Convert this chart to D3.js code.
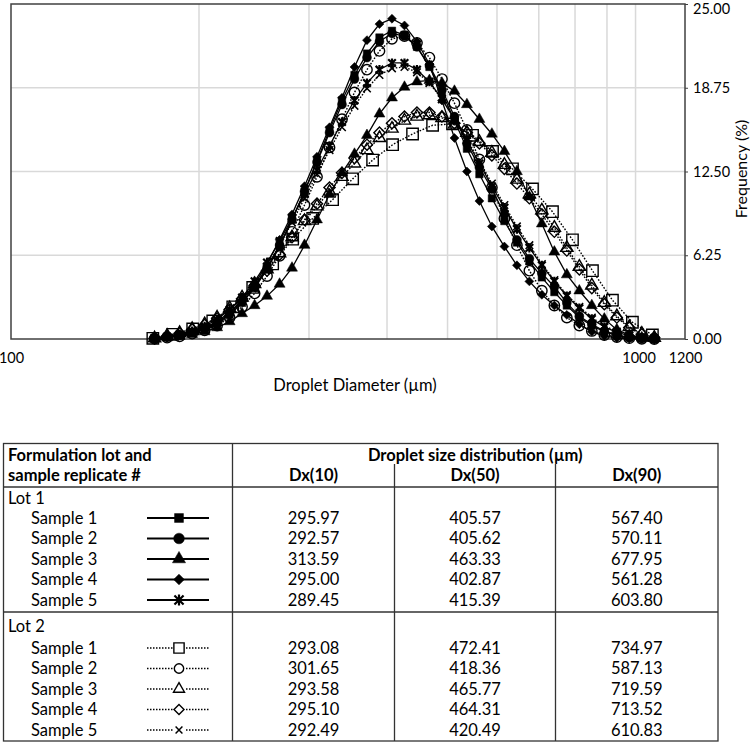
<!DOCTYPE html>
<html>
<head>
<meta charset="utf-8">
<script src="https://cdn.jsdelivr.net/npm/d3@7"></script>
<style>
body { margin: 0; background: #fff; }
text { font-family: Lato, "Open Sans", sans-serif; fill: #000; }
</style>
</head>
<body>
<svg width="750" height="743"></svg>
<script>
// droplet diameters (um) shared by most series
var diameters = [169.8,177.8,186.2,195.0,204.2,213.8,223.9,234.4,245.5,257.0,269.2,281.8,295.1,309.0,323.6,338.8,354.8,371.5,389.0,407.4,426.6,446.7,467.7,489.8,512.9,537.0,562.3,588.8,616.6,645.7,676.1,707.9,741.3,776.2,812.8,851.1,891.3,933.3,977.2,1023.3,1071.5];

// frequency (%) per series
var lot1Sample1 = [0.04,0.12,0.25,0.45,0.75,1.15,1.8,2.7,3.8,5.2,6.9,8.9,11.0,13.3,15.6,17.8,19.7,21.3,22.5,23.0,22.7,21.8,20.3,18.4,16.3,14.2,12.3,10.5,8.8,7.2,5.8,4.6,3.5,2.5,1.6,1.0,0.55,0.25,0.1,0.03,0];
var lot1Sample2 = [0.05,0.15,0.3,0.5,0.8,1.2,1.9,2.8,3.9,5.3,7.0,8.9,11.0,13.2,15.4,17.5,19.4,21.0,22.2,22.8,22.6,21.8,20.4,18.6,16.6,14.6,12.8,11.2,9.3,7.4,6.0,4.9,3.9,2.7,1.7,1.1,0.6,0.3,0.12,0.04,0];
var lot1Sample3 = [0.04,0.1,0.2,0.35,0.55,0.85,1.3,1.9,2.5,3.2,4.1,5.3,7.0,8.9,10.8,12.4,13.8,15.2,16.8,18.0,18.8,19.2,19.3,19.1,18.5,17.5,16.4,15.3,14.0,12.5,10.6,8.6,6.5,4.8,3.6,2.5,1.5,0.7,0.3,0.1,0.03];
var lot1Sample4 = [0.05,0.15,0.3,0.5,0.8,1.3,2.0,2.9,4.1,5.6,7.4,9.3,11.4,13.6,15.8,18.0,20.3,22.3,23.5,23.9,23.4,22.2,20.5,17.8,15.0,12.5,10.3,8.4,6.9,5.5,4.3,3.3,2.5,1.8,1.1,0.55,0.22,0.08,0.02,0,0];
var lot1Sample5 = [0.06,0.18,0.35,0.6,0.95,1.45,2.2,3.1,4.3,5.7,7.3,9.0,10.8,12.6,14.4,16.2,17.8,19.1,20.1,20.6,20.6,20.1,19.2,17.9,16.4,14.8,13.1,11.4,9.8,8.2,6.8,5.5,4.3,3.2,2.3,1.5,0.9,0.5,0.25,0.1,0.03];

var lot2Sample1Diameters = [168.7,181.6,195.4,210.4,226.5,243.8,262.4,282.5,304.1,327.3,352.4,379.3,408.3,439.5,473.2,509.3,548.3,590.2,635.3,683.9,736.2,792.5,853.1,918.3,988.5,1064.1];
var lot2Sample1 = [0.05,0.35,0.75,1.35,2.4,3.85,5.6,7.45,9.0,10.4,11.95,13.35,14.5,15.3,15.95,16.05,15.2,14.0,12.7,11.2,9.5,7.4,5.1,2.9,1.25,0.3];
var lot2Sample2 = [0.03,0.1,0.2,0.4,0.65,1.0,1.6,2.4,3.4,4.7,6.2,8.0,10.0,12.1,14.3,16.4,18.4,20.1,21.5,22.4,22.6,22.1,21.0,19.4,17.6,15.6,13.4,11.3,9.0,7.0,5.1,3.6,2.5,1.6,1.0,0.6,0.3,0.15,0.06,0.02,0];
var lot2Sample3 = [0.05,0.25,0.45,0.75,1.1,1.6,2.3,3.1,4.1,5.2,6.4,7.6,8.8,9.9,11.0,12.1,13.1,14.1,15.0,15.7,16.3,16.6,16.7,16.5,16.0,15.4,14.7,13.9,13.0,11.9,10.8,9.6,8.3,6.8,5.4,4.0,2.7,1.7,0.9,0.4,0.1];
var lot2Sample4 = [0.05,0.22,0.42,0.7,1.05,1.55,2.2,3.0,4.0,5.1,6.3,7.6,8.9,10.1,11.3,12.4,13.5,14.5,15.4,16.1,16.6,16.9,16.9,16.6,16.1,15.4,14.6,13.7,12.7,11.6,10.5,9.3,8.0,6.6,5.2,3.8,2.6,1.6,0.85,0.35,0.1];
var lot2Sample5 = [0.05,0.15,0.3,0.55,0.85,1.3,2.0,2.9,4.0,5.4,7.0,8.7,10.5,12.3,14.1,15.8,17.4,18.7,19.7,20.2,20.3,19.9,19.1,17.9,16.5,14.9,13.3,11.6,10.0,8.4,7.0,5.6,4.4,3.3,2.4,1.6,1.0,0.55,0.28,0.12,0.04];

// axis ticks
var xGrid = [200,300,400,500,600,700,800,900,1000];
var xTickLabels = [100,1000,1200];
var yTicks = [0,6.25,12.5,18.75,25];

// table
var lotNames = ["Lot 1","Lot 2"];
var sampleNames = ["Sample 1","Sample 2","Sample 3","Sample 4","Sample 5"];
var lot1Dx10 = [295.97,292.57,313.59,295.00,289.45];
var lot1Dx50 = [405.57,405.62,463.33,402.87,415.39];
var lot1Dx90 = [567.40,570.11,677.95,561.28,603.80];
var lot2Dx10 = [293.08,301.65,293.58,295.10,292.49];
var lot2Dx50 = [472.41,418.36,465.77,464.31,420.49];
var lot2Dx90 = [734.97,587.13,719.59,713.52,610.83];

var markers1 = ["square","circle","triangle","diamond","asterisk"];
var markers2 = ["square","circle","triangle","diamond","times"];

var svg = d3.select("svg");

var plot = {left: 11, right: 685, top: 4, bottom: 339};

var x = d3.scaleLog().domain([100,1200]).range([plot.left, plot.right]);
var y = d3.scaleLinear().domain([0,25]).range([plot.bottom, plot.top]);

// grid
svg.append("g").selectAll("line").data(xGrid).enter().append("line")
  .attr("x1", function(d){ return x(d); }).attr("x2", function(d){ return x(d); })
  .attr("y1", plot.top).attr("y2", plot.bottom)
  .attr("stroke", "#d9d9d9").attr("stroke-width", 1.5);
svg.append("g").selectAll("line").data(yTicks.slice(1,4)).enter().append("line")
  .attr("x1", plot.left).attr("x2", plot.right)
  .attr("y1", function(d){ return y(d); }).attr("y2", function(d){ return y(d); })
  .attr("stroke", "#d9d9d9").attr("stroke-width", 1.5);

// frame
svg.append("rect")
  .attr("x", plot.left).attr("y", plot.top)
  .attr("width", plot.right - plot.left).attr("height", plot.bottom - plot.top)
  .attr("fill", "none").attr("stroke", "#404040").attr("stroke-width", 1.5);

// right axis
var yAxis = d3.axisRight(y).tickValues(yTicks).tickFormat(d3.format(".2f")).tickSize(3).tickPadding(5);
var ya = svg.append("g").attr("transform", "translate(" + plot.right + ",0)").call(yAxis);
ya.select(".domain").remove();
ya.selectAll("line").attr("stroke", "#404040");
ya.selectAll("text").style("font-size", "14.5px").attr("fill", "#000");
// top label pushed down a little so it stays inside the page
ya.selectAll("text").filter(function(d){ return d === 25; }).attr("y", 4).attr("dy", "0.35em");

var xAxis = d3.axisBottom(x).tickValues(xTickLabels).tickFormat(d3.format("d")).tickSize(0).tickPadding(14);
var xa = svg.append("g").attr("transform", "translate(0," + plot.bottom + ")").call(xAxis);
xa.select(".domain").remove();
xa.selectAll("text").style("font-size", "14.5px").attr("fill", "#000");
xa.selectAll("text").filter(function(d){ return d === 1000; }).attr("dx", 3);

svg.append("text").attr("x", (plot.left + plot.right) / 2 + 7).attr("y", 385)
  .attr("text-anchor", "middle").attr("dy", "0.35em").style("font-size", "16.5px")
  .text("Droplet Diameter (\u00b5m)");
svg.append("text").attr("transform", "translate(741,169) rotate(-90)")
  .attr("text-anchor", "middle").attr("dy", "0.35em").style("font-size", "16px")
  .text("Frequency (%)");

// markers
function markerPath(type, scale) {
  var k = scale || 1;
  var r = 3.8 * k;
  var p = "M" + (-r) + "," + (-r) + "L" + r + "," + r + "M" + (-r) + "," + r + "L" + r + "," + (-r);
  if (type === "asterisk") p += "M0," + (-r * 1.2) + "L0," + (r * 1.2);
  return p;
}

function drawMarker(g, type, filled, k) {
  k = k || 1;
  var path;
  var rot = 0;
  if (type === "square") {
    path = d3.symbol().type(d3.symbolSquare).size((filled ? 55 : 130) * k * k)();
  } else if (type === "circle") {
    path = d3.symbol().type(d3.symbolCircle).size((filled ? 62 : 85) * k * k)();
  } else if (type === "triangle") {
    path = d3.symbol().type(d3.symbolTriangle).size((filled ? 52 : 65) * k * k)();
  } else if (type === "diamond") {
    path = d3.symbol().type(d3.symbolSquare).size((filled ? 40 : 62) * k * k)();
    rot = 45;
  } else {
    path = markerPath(type, k);
  }
  var stroked = (type === "asterisk" || type === "times");
  g.append("path")
    .attr("d", path)
    .attr("transform", rot ? "rotate(" + rot + ")" : null)
    .attr("fill", stroked ? "none" : (filled ? "#000" : "none"))
    .attr("stroke", "#000")
    .attr("stroke-width", stroked ? (filled ? 2.2 : 1.5) : (filled ? 0.5 : 1.4));
}

var seriesList = [
  {xs: diameters, ys: lot1Sample1, marker: "square", lot: 1},
  {xs: diameters, ys: lot1Sample2, marker: "circle", lot: 1},
  {xs: diameters, ys: lot1Sample3, marker: "triangle", lot: 1},
  {xs: diameters, ys: lot1Sample4, marker: "diamond", lot: 1},
  {xs: diameters, ys: lot1Sample5, marker: "asterisk", lot: 1},
  {xs: lot2Sample1Diameters, ys: lot2Sample1, marker: "square", lot: 2},
  {xs: diameters, ys: lot2Sample2, marker: "circle", lot: 2},
  {xs: diameters, ys: lot2Sample3, marker: "triangle", lot: 2},
  {xs: diameters, ys: lot2Sample4, marker: "diamond", lot: 2},
  {xs: diameters, ys: lot2Sample5, marker: "times", lot: 2}
];

var line = d3.line()
  .x(function(d){ return x(d[0]); })
  .y(function(d){ return y(d[1]); });

var chart = svg.append("g");
seriesList.forEach(function(s) {
  var pts = s.xs.map(function(v, i){ return [v, s.ys[i]]; });
  var g = chart.append("g");
  g.append("path")
    .datum(pts)
    .attr("d", line)
    .attr("fill", "none")
    .attr("stroke", "#000")
    .attr("stroke-width", s.lot === 1 ? 1.3 : 1.4)
    .attr("stroke-dasharray", s.lot === 1 ? null : "1.6,1.6");
  g.selectAll("g.pt").data(pts).enter().append("g")
    .attr("class", "pt")
    .attr("transform", function(d){ return "translate(" + x(d[0]) + "," + y(d[1]) + ")"; })
    .each(function(){ drawMarker(d3.select(this), s.marker, s.lot === 1); });
});

// table
var tbl = svg.append("g");
var T = {left: 3.5, right: 718, top: 443.5, bottom: 741, col1: 232.5, col2: 394.5, col3: 555.5, head: 487, sep: 612};
var stroke = "#333";

tbl.append("rect").attr("x", T.left).attr("y", T.top)
  .attr("width", T.right - T.left).attr("height", T.bottom - T.top)
  .attr("fill", "none").attr("stroke", stroke).attr("stroke-width", 1.3);
tbl.append("line").attr("x1", T.col1).attr("x2", T.col1).attr("y1", T.top).attr("y2", T.bottom)
  .attr("stroke", stroke).attr("stroke-width", 1.3);
[T.col2, T.col3].forEach(function(cx) {
  tbl.append("line").attr("x1", cx).attr("x2", cx).attr("y1", 464).attr("y2", T.bottom)
    .attr("stroke", stroke).attr("stroke-width", 1.3);
});
[T.head, T.sep].forEach(function(ly) {
  tbl.append("line").attr("x1", T.left).attr("x2", T.right).attr("y1", ly).attr("y2", ly)
    .attr("stroke", stroke).attr("stroke-width", 1.3);
});

function cell(txt, cx, cy, anchor, bold) {
  tbl.append("text").attr("x", cx).attr("y", cy).attr("dy", "0.35em")
    .attr("text-anchor", anchor)
    .style("font-size", "16.5px")
    .style("font-weight", bold ? "bold" : "normal")
    .text(txt);
}

var cc = [(T.col1 + T.col2) / 2, (T.col2 + T.col3) / 2, (T.col3 + T.right) / 2];
cell("Formulation lot and", 8, 455, "start", true);
cell("sample replicate #", 8, 475, "start", true);
cell("Droplet size distribution (\u00b5m)", (T.col1 + T.right) / 2, 455, "middle", true);
cell("Dx(10)", cc[0], 475, "middle", true);
cell("Dx(50)", cc[1], 475, "middle", true);
cell("Dx(90)", cc[2], 475, "middle", true);

var lotData = [
  {name: lotNames[0], top: 498, rows: 518, cols: [lot1Dx10, lot1Dx50, lot1Dx90], markers: markers1, lot: 1},
  {name: lotNames[1], top: 626, rows: 648, cols: [lot2Dx10, lot2Dx50, lot2Dx90], markers: markers2, lot: 2}
];
var fmt = d3.format(".2f");
lotData.forEach(function(L) {
  cell(L.name, 8, L.top, "start", false);
  sampleNames.forEach(function(nm, i) {
    var ry = L.rows + i * 20.5;
    cell(nm, 31, ry, "start", false);
    tbl.append("line").attr("x1", 147).attr("x2", 209).attr("y1", ry).attr("y2", ry)
      .attr("stroke", "#000").attr("stroke-width", L.lot === 1 ? 2 : 1.5)
      .attr("stroke-dasharray", L.lot === 1 ? null : "1.5,1.5");
    var mg = tbl.append("g").attr("transform", "translate(179," + ry + ")");
    if (L.lot === 2) {
      mg.append("rect").attr("x", -6).attr("y", -6).attr("width", 12).attr("height", 12).attr("fill", "#fff");
    }
    drawMarker(mg, L.markers[i], L.lot === 1, L.lot === 1 ? 1.2 : 0.9);
    L.cols.forEach(function(arr, j) {
      cell(fmt(arr[i]), cc[j], ry, "middle", false);
    });
  });
});
</script>
</body>
</html>
